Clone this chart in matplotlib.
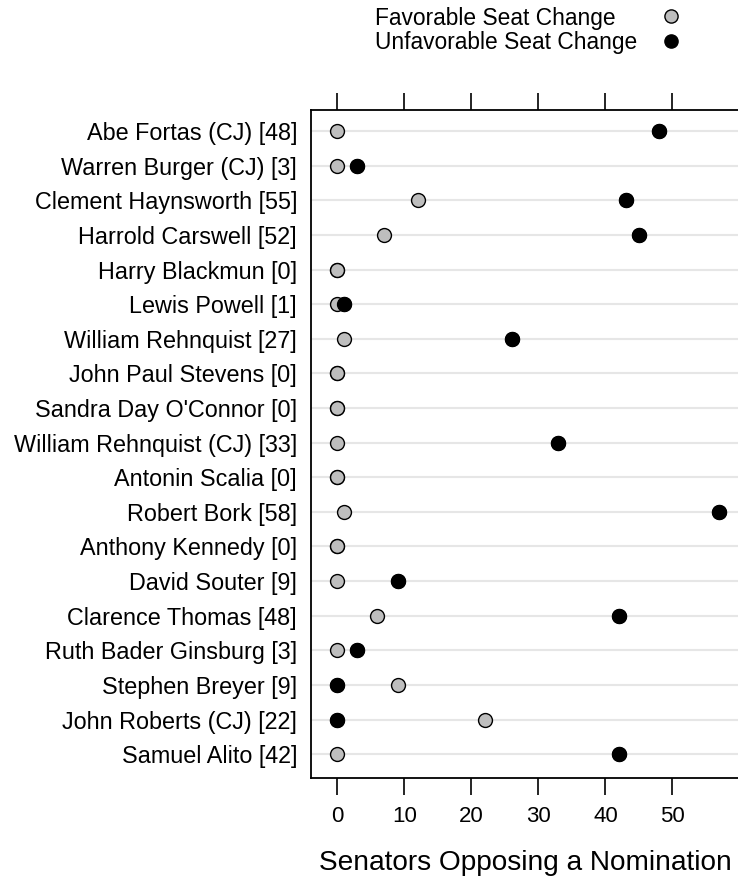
import numpy as np
import matplotlib.pyplot as plt
from matplotlib.lines import Line2D

plt.rcParams['font.family'] = ['Liberation Sans', 'DejaVu Sans']

nominees = [
    'Abe Fortas (CJ) [48]', 'Warren Burger (CJ) [3]', 'Clement Haynsworth [55]',
    'Harrold Carswell [52]', 'Harry Blackmun [0]', 'Lewis Powell [1]',
    'William Rehnquist [27]', 'John Paul Stevens [0]', "Sandra Day O'Connor [0]",
    'William Rehnquist (CJ) [33]', 'Antonin Scalia [0]', 'Robert Bork [58]',
    'Anthony Kennedy [0]', 'David Souter [9]', 'Clarence Thomas [48]',
    'Ruth Bader Ginsburg [3]', 'Stephen Breyer [9]', 'John Roberts (CJ) [22]',
    'Samuel Alito [42]',
]
favorable = [0, 0, 12, 7, 0, 0, 1, 0, 0, 0, 0, 1, 0, 0, 6, 0, 9, 22, 0]
unfavorable = [48, 3, 43, 45, 0, 1, 26, 0, 0, 33, 0, 57, 0, 9, 42, 3, 0, 0, 42]

x_ticks = [0, 10, 20, 30, 40, 50]
legend_labels = ['Favorable Seat Change', 'Unfavorable Seat Change']

GREY = '#bebebe'


def main():
  W, H = 738, 884
  fig = plt.figure(figsize=(W / 100, H / 100), dpi=100)
  ax = fig.add_axes([311 / W, 1 - 778 / H, 1.003 - 311 / W, (778 - 110) / H])

  n = len(nominees)
  ypos = np.arange(n)

  for y in ypos:
    ax.axhline(y, color='#e6e6e6', lw=1.5, zorder=0)

  ax.scatter(unfavorable, ypos, s=100, c='black', edgecolors='black', linewidths=1.0, zorder=2)
  ax.scatter(favorable, ypos, s=100, c=GREY, edgecolors='black', linewidths=1.0, zorder=3)
  # black dots that don't share a spot with a grey one sit on top
  top_x = [u for u, f in zip(unfavorable, favorable) if u != f]
  top_y = [y for y, u, f in zip(ypos, unfavorable, favorable) if u != f]
  ax.scatter(top_x, top_y, s=100, c='black', edgecolors='black', linewidths=1.0, zorder=4)

  ax.set_ylim(n - 1 + 0.69, -0.61)
  ax.set_xlim(-3.9, 60.1)
  ax.set_yticks(ypos)
  ax.set_yticklabels(nominees, fontsize=16.8)
  ax.tick_params(axis='y', length=0, pad=10)
  ax.set_xticks(x_ticks)
  ax.tick_params(axis='x', length=12, width=1.2, labelsize=16, pad=8,
                 top=True, labeltop=False)
  ax.spines['right'].set_visible(False)
  for side in ('left', 'top', 'bottom'):
    ax.spines[side].set_linewidth(1.3)
  ax.set_xlabel('Senators Opposing a Nomination', fontsize=20.2, labelpad=17)

  # legend: text on the left, markers in a column on the right
  legend_rows = [(18, GREY), (43, 'black')]
  for (py, col), lab in zip(legend_rows, legend_labels):
    fig.text(375 / W, 1 - py / H, lab, fontsize=16.4, ha='left', va='center')
    fig.add_artist(Line2D([671 / W], [1 - (py - 2) / H], transform=fig.transFigure,
                          ls='none', marker='o', markersize=9.5, markerfacecolor=col,
                          markeredgecolor='black', markeredgewidth=1.0))

  fig.savefig('out.png', dpi=100)


if __name__ == '__main__':
  main()
